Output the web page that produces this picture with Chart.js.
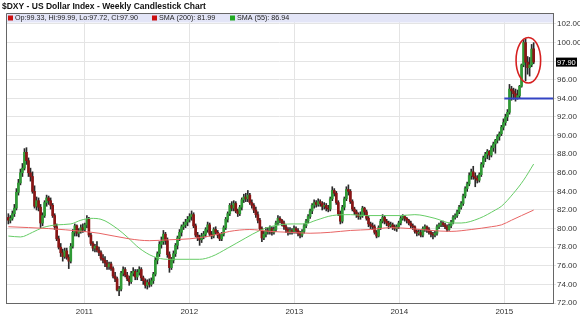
<!DOCTYPE html>
<html lang="en">
<head>
  <meta charset="UTF-8">
  <title>$DXY Weekly Candlestick Chart</title>
  <script src="https://cdn.jsdelivr.net/npm/chart.js"></script>
  <style>
    html, body { margin: 0; padding: 0; background: #fff; }
    #wrap { width: 580px; height: 329px; position: relative; }
  </style>
</head>
<body>
<div id="wrap"><canvas id="chart"></canvas></div>
<script>
// weekly bars, first week starts Mon 12 Apr 2010
const firstWeek = [2010, 3, 12];

const opens = [
  81.2,80.9,81.1,81.6,82.2,83.9,84.9,86.0,86.5,88.2,
  87.3,86.0,85.6,84.0,82.4,83.0,82.3,80.6,81.4,82.8,
  83.3,83.0,82.5,81.4,80.2,78.9,78.0,77.4,77.0,77.6,
  76.9,76.5,78.1,79.6,80.3,79.5,79.7,80.1,79.9,80.4,
  81.0,79.3,78.4,77.9,78.1,77.7,77.4,76.8,76.6,76.3,
  75.9,76.2,75.7,74.9,74.6,73.4,73.5,75.2,75.6,75.0,
  74.6,74.3,75.2,75.4,74.8,75.3,75.6,74.7,74.4,73.9,
  74.2,74.0,74.4,75.1,76.6,77.3,78.3,78.6,79.4,78.7,
  77.2,75.8,76.6,77.3,78.2,79.0,79.6,80.2,80.4,80.7,
  81.0,81.3,81.5,80.3,79.3,79.0,78.8,79.2,79.4,79.9,
  80.4,79.4,79.2,79.9,79.6,79.3,78.9,79.4,80.1,81.0,
  81.6,82.5,82.2,82.7,81.9,81.6,82.3,83.1,83.4,83.2,
  83.6,82.8,82.5,82.0,81.5,80.9,80.0,79.0,79.4,79.8,
  79.7,80.0,79.6,79.9,80.6,81.1,80.9,80.6,80.2,79.9,
  79.6,79.8,79.7,80.0,79.8,79.5,79.3,79.7,80.3,80.8,
  81.3,81.9,82.5,82.8,82.6,82.9,82.7,82.4,82.5,82.2,
  82.1,83.2,84.1,83.8,82.8,81.6,80.8,82.3,83.2,84.2,
  84.0,82.9,82.1,81.8,81.5,81.3,81.4,82.2,81.8,81.1,
  80.5,80.3,80.2,79.6,79.2,80.1,80.8,81.2,80.8,80.6,
  80.3,80.4,80.2,80.0,80.2,80.6,81.1,81.3,81.1,80.9,
  80.6,80.3,80.2,79.7,79.5,79.6,79.3,80.0,80.2,79.9,
  79.6,79.4,79.3,79.5,80.2,80.4,80.6,80.4,80.2,79.9,
  80.3,80.7,81.2,81.4,81.8,82.3,82.7,83.5,84.3,84.8,
  85.7,86.1,85.6,85.4,85.2,85.8,86.9,87.6,88.0,88.3,
  87.9,88.7,89.1,89.5,89.9,90.2,90.9,91.4,92.0,92.5,
  95.0,94.8,94.5,94.1,94.3,95.3,97.6,100.0,97.9,97.3,
  97.6,99.33
];
const highs = [
  81.6,81.4,81.9,82.6,84.3,85.3,86.4,87.0,88.6,88.7,
  87.6,86.5,86.1,84.6,83.4,83.3,82.6,81.7,83.0,83.6,
  83.5,83.3,82.7,81.6,80.5,79.2,78.4,77.8,77.9,77.9,
  77.2,78.4,79.9,80.5,80.4,80.0,80.4,80.5,80.6,81.4,
  81.2,79.5,78.6,78.3,78.6,78.0,77.6,77.2,77.0,76.6,
  76.4,76.4,75.9,75.3,74.8,73.8,75.4,75.9,75.8,75.3,
  74.9,75.4,75.8,75.6,75.6,75.9,75.8,74.9,74.6,74.5,
  74.6,74.7,75.3,76.9,77.5,78.6,79.1,79.8,79.6,79.0,
  77.5,76.9,77.6,78.4,79.2,79.9,80.4,80.7,81.0,81.3,
  81.6,81.9,81.7,80.5,79.6,79.3,79.5,79.7,80.1,80.7,
  80.6,79.7,80.1,80.2,79.8,79.5,79.6,80.3,81.2,81.8,
  82.7,82.9,83.0,82.9,82.1,82.5,83.3,83.7,83.8,84.1,
  83.8,83.1,82.7,82.3,81.8,81.1,80.2,79.7,80.1,80.1,
  80.3,80.2,80.2,80.8,81.4,81.3,81.0,80.8,80.4,80.1,
  80.1,80.0,80.3,80.2,80.0,79.7,79.9,80.5,81.0,81.5,
  82.1,82.7,83.1,83.0,83.2,83.1,82.9,82.8,82.7,82.5,
  83.4,84.5,84.3,84.0,83.0,81.9,82.5,83.4,84.5,84.7,
  84.2,83.1,82.3,82.0,81.7,81.8,82.4,82.3,82.0,81.3,
  80.7,80.6,80.4,79.8,80.3,81.0,81.5,81.4,81.0,80.8,
  80.7,80.6,80.4,80.4,80.8,81.3,81.5,81.4,81.2,81.0,
  80.8,80.5,80.3,79.9,79.9,79.8,80.2,80.4,80.3,80.1,
  79.8,79.6,79.7,80.4,80.6,80.8,80.8,80.6,80.4,80.5,
  80.9,81.4,81.6,82.0,82.5,82.9,83.7,84.5,85.0,86.0,
  86.4,86.7,86.0,85.7,86.0,87.1,87.8,88.2,88.5,88.4,
  88.9,89.3,89.6,90.1,90.4,91.1,91.8,92.3,92.8,95.5,
  95.3,95.1,95.0,94.9,95.4,97.7,100.3,100.4,98.5,98.4,
  99.8,99.99
];
const lows = [
  80.5,80.6,80.9,81.3,82.0,83.6,84.7,85.6,86.3,86.9,
  85.6,85.1,83.8,82.2,82.0,81.9,80.1,80.3,81.2,82.4,
  82.6,82.1,81.2,79.9,78.7,77.8,77.0,76.5,76.8,76.7,
  75.7,76.3,77.9,79.2,79.2,79.1,79.5,79.6,79.7,80.1,
  79.1,78.2,77.6,77.5,77.5,77.1,76.6,76.3,75.9,75.6,
  75.6,75.5,74.7,74.3,73.3,72.8,73.3,74.9,74.8,74.4,
  73.9,74.1,74.9,74.5,74.5,75.0,74.4,74.0,73.6,73.5,
  73.7,73.8,74.1,74.9,76.2,77.0,77.9,78.3,78.3,76.9,
  75.3,75.6,76.3,77.0,77.8,78.7,79.2,79.9,80.1,80.3,
  80.7,80.9,80.1,79.1,78.7,78.2,78.5,78.9,79.1,79.6,
  79.2,78.9,79.0,79.4,79.0,78.7,78.7,79.2,79.9,80.7,
  81.4,81.9,81.9,81.7,81.3,81.4,82.0,82.8,82.9,82.9,
  82.6,82.2,81.7,81.2,80.6,79.8,78.6,78.8,79.1,79.4,
  79.4,79.3,79.4,79.7,80.4,80.6,80.3,79.9,79.6,79.3,
  79.4,79.4,79.5,79.5,79.2,79.0,79.1,79.5,80.1,80.6,
  81.1,81.6,82.2,82.3,82.4,82.4,82.0,82.1,81.9,81.8,
  81.9,83.0,83.5,82.6,81.4,80.5,80.6,82.0,83.0,83.6,
  82.7,81.9,81.5,81.2,81.0,81.0,81.2,81.5,80.9,80.2,
  80.0,79.9,79.4,79.0,79.1,79.9,80.6,80.5,80.3,80.0,
  80.1,79.9,79.8,79.7,80.0,80.4,80.9,80.8,80.6,80.4,
  80.1,79.9,79.5,79.2,79.3,79.1,79.1,79.7,79.6,79.4,
  79.1,78.9,79.1,79.3,80.0,80.2,80.2,80.0,79.7,79.8,
  80.1,80.5,81.0,81.2,81.6,82.1,82.5,83.3,84.0,84.6,
  85.3,85.3,84.5,84.9,85.0,85.6,86.6,87.2,87.5,87.4,
  87.7,88.3,88.1,89.2,89.5,90.0,90.6,91.1,91.6,92.3,
  93.8,93.9,93.7,93.9,94.0,95.2,97.4,95.9,96.6,96.4,
  97.4,97.72
];
const closes = [
  80.9,81.1,81.6,82.2,83.9,84.9,86.0,86.5,88.2,87.3,
  86.0,85.6,84.0,82.4,83.0,82.3,80.6,81.4,82.8,83.3,
  83.0,82.5,81.4,80.2,78.9,78.0,77.4,77.0,77.6,76.9,
  76.5,78.1,79.6,80.3,79.5,79.7,80.1,79.9,80.4,81.0,
  79.3,78.4,77.9,78.1,77.7,77.4,76.8,76.6,76.3,75.9,
  76.2,75.7,74.9,74.6,73.4,73.5,75.2,75.6,75.0,74.6,
  74.3,75.2,75.4,74.8,75.3,75.6,74.7,74.4,73.9,74.2,
  74.0,74.4,75.1,76.6,77.3,78.3,78.6,79.4,78.7,77.2,
  75.8,76.6,77.3,78.2,79.0,79.6,80.2,80.4,80.7,81.0,
  81.3,81.5,80.3,79.3,79.0,78.8,79.2,79.4,79.9,80.4,
  79.4,79.2,79.9,79.6,79.3,78.9,79.4,80.1,81.0,81.6,
  82.5,82.2,82.7,81.9,81.6,82.3,83.1,83.4,83.2,83.6,
  82.8,82.5,82.0,81.5,80.9,80.0,79.0,79.4,79.8,79.7,
  80.0,79.6,79.9,80.6,81.1,80.9,80.6,80.2,79.9,79.6,
  79.8,79.7,80.0,79.8,79.5,79.3,79.7,80.3,80.8,81.3,
  81.9,82.5,82.8,82.6,82.9,82.7,82.4,82.5,82.2,82.1,
  83.2,84.1,83.8,82.8,81.6,80.8,82.3,83.2,84.2,84.0,
  82.9,82.1,81.8,81.5,81.3,81.4,82.2,81.8,81.1,80.5,
  80.3,80.2,79.6,79.2,80.1,80.8,81.2,80.8,80.6,80.3,
  80.4,80.2,80.0,80.2,80.6,81.1,81.3,81.1,80.9,80.6,
  80.3,80.2,79.7,79.5,79.6,79.3,80.0,80.2,79.9,79.6,
  79.4,79.3,79.5,80.2,80.4,80.6,80.4,80.2,79.9,80.3,
  80.7,81.2,81.4,81.8,82.3,82.7,83.5,84.3,84.8,85.7,
  86.1,85.6,85.4,85.2,85.8,86.9,87.6,88.0,88.3,87.9,
  88.7,89.1,89.5,89.9,90.2,90.9,91.4,92.0,92.5,95.0,
  94.8,94.5,94.1,94.3,95.3,97.6,100.0,97.9,97.3,97.6,
  99.3,97.90
];

// moving averages (week index -> value)
const sma200Weeks = [0,20,37,45,60,70,80,90,100,110,120,130,140,150,160,170,180,190,200,210,220,230,240,245,250,255,261];
const sma200Vals  = [80.2,80.0,79.7,79.5,78.9,78.7,78.8,78.9,79.2,79.7,79.9,79.7,79.6,79.5,79.6,79.8,79.9,80.1,80.0,79.8,79.7,79.9,80.2,80.4,80.9,81.4,81.99];
const sma55Weeks = [0,6,12,17,24,31,36,41,46,54,59,65,72,79,90,95,101,109,118,125,132,141,147,153,161,170,178,186,195,202,212,220,225,234,242,245,251,256,261];
const sma55Vals  = [79.2,79.1,79.6,80.1,80.4,80.5,80.9,81.1,81.0,80.0,79.1,77.9,77.0,76.7,76.7,76.7,77.0,77.9,79.0,79.8,80.3,80.5,80.5,80.9,81.4,81.5,81.4,81.4,81.4,81.5,81.1,80.6,80.6,81.1,82.0,82.4,83.8,85.2,86.94];

const yearTicks = [2011, 2012, 2013, 2014, 2015];
const priceTicks = [72,74,76,78,80,82,84,86,88,90,92,94,96,98,100,102];

// drawn-on annotations (data units)
const supportLevel = 94, supportFrom = 2015.0;
const circle = { x: 2015.229, y: 98.1, rx: 0.117, ry: 2.45 };

const xMin = 2010.2543, xMax = 2015.4638;
const yMin = 72, yMax = 103.18;

function weekToYear(i) {
  const d = new Date(Date.UTC(firstWeek[0], firstWeek[1], firstWeek[2] + 7 * i));
  const y = d.getUTCFullYear();
  const a = Date.UTC(y, 0, 1), b = Date.UTC(y + 1, 0, 1);
  return y + (d - a) / (b - a);
}

const UP = '#2f9a35', DOWN = '#8a1515', WICK = '#2a2a2a';
const FONT = '"Liberation Sans", Arial, sans-serif';

const wickData = closes.map((c, i) => ({ x: weekToYear(i), y: [lows[i], highs[i]] }));
const bodyData = closes.map((c, i) => ({ x: weekToYear(i), y: [opens[i], c] }));
const bodyColors = closes.map((c, i) => c >= opens[i] ? UP : DOWN);

const last = closes.length - 1;

const overlay = {
  id: 'overlay',
  beforeDatasetsDraw(chart) {
    const { ctx, chartArea: a } = chart;
    ctx.save();
    // legend band
    ctx.fillStyle = '#e3e5f7';
    ctx.fillRect(a.left, a.top, a.right - a.left, 9.5);
    ctx.font = '7.2px ' + FONT;
    ctx.textBaseline = 'middle';
    const ty = a.top + 5;
    const items = [
      [8, '#cc1111', `Op:${opens[last].toFixed(2)}, Hi:${highs[last].toFixed(2)}, Lo:${lows[last].toFixed(2)}, Cl:${closes[last].toFixed(2)}`],
      [152, '#cc1111', `SMA (200): ${sma200Vals[sma200Vals.length - 1].toFixed(2)}`],
      [230, '#22aa22', `SMA (55): ${sma55Vals[sma55Vals.length - 1].toFixed(2)}`]
    ];
    items.forEach(([x, col, txt]) => {
      ctx.fillStyle = col;
      ctx.fillRect(x, ty - 2.5, 5, 5);
      ctx.fillStyle = '#222';
      ctx.fillText(txt, x + 7, ty + 0.5);
    });
    // frame left + top
    ctx.strokeStyle = '#666';
    ctx.lineWidth = 1;
    ctx.beginPath();
    ctx.moveTo(a.left + 0.5, a.bottom);
    ctx.lineTo(a.left + 0.5, a.top + 0.5);
    ctx.lineTo(a.right, a.top + 0.5);
    ctx.stroke();
    ctx.restore();
  },
  afterDraw(chart) {
    const { ctx, chartArea: a, scales: { x, y } } = chart;
    ctx.save();
    // title
    ctx.fillStyle = '#111';
    ctx.font = 'bold 8.5px ' + FONT;
    ctx.textBaseline = 'alphabetic';
    ctx.fillText('$DXY - US Dollar Index - Weekly Candlestick Chart', 2, 9);
    // red ellipse
    const cx = x.getPixelForValue(circle.x), cy = y.getPixelForValue(circle.y);
    const rx = x.getPixelForValue(circle.x + circle.rx) - cx;
    const ry = cy - y.getPixelForValue(circle.y + circle.ry);
    ctx.strokeStyle = '#d62020';
    ctx.lineWidth = 1.6;
    ctx.beginPath();
    ctx.ellipse(cx, cy, rx, ry, 0, 0, Math.PI * 2);
    ctx.stroke();
    // last price tag
    const py = y.getPixelForValue(closes[last]);
    ctx.fillStyle = '#000';
    ctx.fillRect(a.right + 3, py - 4.5, 21, 9);
    ctx.fillStyle = '#fff';
    ctx.font = '7.5px ' + FONT;
    ctx.textBaseline = 'middle';
    ctx.fillText(closes[last].toFixed(2), a.right + 4, py + 0.5);
    ctx.restore();
  }
};

new Chart(document.getElementById('chart'), {
  type: 'bar',
  data: {
    datasets: [
      { type: 'line', data: sma200Weeks.map((w, k) => ({ x: weekToYear(w), y: sma200Vals[k] })),
        borderColor: '#e86464', borderWidth: 1, pointRadius: 0, cubicInterpolationMode: 'monotone', order: 0 },
      { type: 'line', data: sma55Weeks.map((w, k) => ({ x: weekToYear(w), y: sma55Vals[k] })),
        borderColor: '#66cc66', borderWidth: 1, pointRadius: 0, cubicInterpolationMode: 'monotone', order: 0 },
      { type: 'line', data: [{ x: supportFrom, y: supportLevel }, { x: xMax, y: supportLevel }],
        borderColor: '#3344c4', borderWidth: 2, pointRadius: 0, order: 0 },
      { type: 'bar', data: wickData, backgroundColor: WICK, barThickness: 1, grouped: false, order: 2 },
      { type: 'bar', data: bodyData, backgroundColor: bodyColors, barThickness: 2, grouped: false, order: 1 }
    ]
  },
  options: {
    responsive: true,
    maintainAspectRatio: false,
    animation: false,
    devicePixelRatio: 1,
    layout: { padding: { left: 6, top: 13, right: 0, bottom: 0 } },
    plugins: { legend: { display: false }, tooltip: { enabled: false } },
    scales: {
      x: {
        type: 'linear', min: xMin, max: xMax, offset: false,
        grid: { color: '#e4e4e4', offset: false, drawTicks: false, tickLength: 0 },
        border: { color: '#666' },
        afterBuildTicks: s => { s.ticks = yearTicks.map(v => ({ value: v })); },
        afterFit: s => { s.height = 26; },
        ticks: { color: '#333', font: { size: 8, family: FONT }, padding: 4, maxRotation: 0, callback: v => String(v) }
      },
      y: {
        position: 'right', min: yMin, max: yMax,
        grid: { color: '#e4e4e4', tickLength: 3 },
        border: { color: '#666' },
        afterBuildTicks: s => { s.ticks = priceTicks.map(v => ({ value: v })); },
        afterFit: s => { s.width = 27; },
        ticks: { color: '#333', font: { size: 8, family: FONT }, padding: 1, callback: v => v.toFixed(2) }
      }
    }
  },
  plugins: [overlay]
});
</script>
</body>
</html>
